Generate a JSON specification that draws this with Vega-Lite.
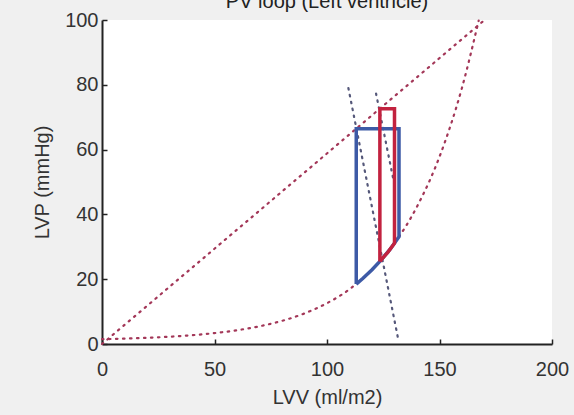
{
  "$schema": "https://vega.github.io/schema/vega-lite/v6.json",
  "width": 450,
  "height": 324,
  "autosize": {"type": "none"},
  "padding": {"left": 102, "top": 20, "right": 22, "bottom": 71},
  "background": "#f0f0f0",
  "title": {"text": "PV loop (Left ventricle)", "fontSize": 20, "font": "Liberation Sans", "fontWeight": "normal", "color": "#222", "anchor": "middle", "frame": "group", "baseline": "alphabetic", "offset": 1, "dy": 19},
  "config": {
    "view": {"fill": "white", "stroke": null},
    "axis": {"labelFont": "Liberation Sans", "titleFont": "Liberation Sans", "labelFontSize": 20, "titleFontSize": 20, "titleFontWeight": "normal", "labelColor": "#333", "titleColor": "#333", "domainColor": "#222", "tickColor": "#222", "domainWidth": 2, "tickWidth": 1.5, "grid": false, "labelFlush": false}
  },
  "datasets": {
    "espvr": [{"V": 0, "P": 0, "i": 0}, {"V": 170, "P": 100, "i": 1}],
    "edpvr": [
      {"V": 0, "P": 1.48, "i": 0}, {"V": 10, "P": 1.66, "i": 1}, {"V": 20, "P": 1.91, "i": 2},
      {"V": 30, "P": 2.25, "i": 3}, {"V": 40, "P": 2.72, "i": 4}, {"V": 50, "P": 3.36, "i": 5},
      {"V": 60, "P": 4.25, "i": 6}, {"V": 70, "P": 5.47, "i": 7}, {"V": 80, "P": 7.14, "i": 8},
      {"V": 90, "P": 9.44, "i": 9}, {"V": 100, "P": 12.6, "i": 10}, {"V": 110, "P": 16.9, "i": 11},
      {"V": 120, "P": 22.9, "i": 12}, {"V": 130, "P": 31.1, "i": 13}, {"V": 140, "P": 42.4, "i": 14},
      {"V": 150, "P": 57.8, "i": 15}, {"V": 160, "P": 79.1, "i": 16}, {"V": 167.4, "P": 99.8, "i": 17}
    ],
    "eaBlue": [{"V": 109.5, "P": 79, "i": 0}, {"V": 131.5, "P": 2, "i": 1}],
    "eaRed": [{"V": 121.8, "P": 77.3, "i": 0}, {"V": 130, "P": 49, "i": 1}],
    "loopBlue": [
      {"V": 113, "P": 18.5, "i": 0}, {"V": 116, "P": 20.3, "i": 1}, {"V": 120, "P": 22.9, "i": 2},
      {"V": 124, "P": 25.9, "i": 3}, {"V": 128, "P": 29.2, "i": 4}, {"V": 132, "P": 33.1, "i": 5},
      {"V": 132, "P": 66.4, "i": 6}, {"V": 113, "P": 66.4, "i": 7}, {"V": 113, "P": 18.5, "i": 8}
    ],
    "loopRed": [
      {"V": 123.5, "P": 25.5, "i": 0}, {"V": 127, "P": 28.3, "i": 1}, {"V": 130, "P": 31.1, "i": 2},
      {"V": 130, "P": 72.6, "i": 3}, {"V": 123.5, "P": 72.6, "i": 4}, {"V": 123.5, "P": 25.5, "i": 5}
    ]
  },
  "encoding": {
    "x": {"field": "V", "type": "quantitative", "scale": {"domain": [0, 200]}, "axis": {"title": "LVV (ml/m2)", "values": [0, 50, 100, 150, 200], "tickSize": -5, "labelPadding": 20, "titlePadding": 8}},
    "y": {"field": "P", "type": "quantitative", "scale": {"domain": [0, 100]}, "axis": {"title": "LVP (mmHg)", "values": [0, 20, 40, 60, 80, 100], "tickSize": -5, "labelPadding": 9, "titlePadding": 12}},
    "order": {"field": "i", "type": "quantitative"}
  },
  "layer": [
    {"data": {"name": "espvr"}, "mark": {"type": "line", "color": "#a33758", "strokeWidth": 2.2, "strokeDash": [1.5, 5.5], "strokeCap": "round"}},
    {"data": {"name": "edpvr"}, "mark": {"type": "line", "color": "#a33758", "strokeWidth": 2.2, "strokeDash": [1.5, 5.5], "strokeCap": "round", "interpolate": "monotone"}},
    {"data": {"name": "eaBlue"}, "mark": {"type": "line", "color": "#55587a", "strokeWidth": 2.2, "strokeDash": [1.5, 5.5], "strokeCap": "round"}},
    {"data": {"name": "eaRed"}, "mark": {"type": "line", "color": "#55587a", "strokeWidth": 2.2, "strokeDash": [1.5, 5.5], "strokeCap": "round"}},
    {"data": {"name": "loopBlue"}, "mark": {"type": "line", "color": "#3d5aa6", "strokeWidth": 3.5, "strokeJoin": "miter"}},
    {"data": {"name": "loopRed"}, "mark": {"type": "line", "color": "#c2223f", "strokeWidth": 3.5, "strokeJoin": "miter"}}
  ]
}
